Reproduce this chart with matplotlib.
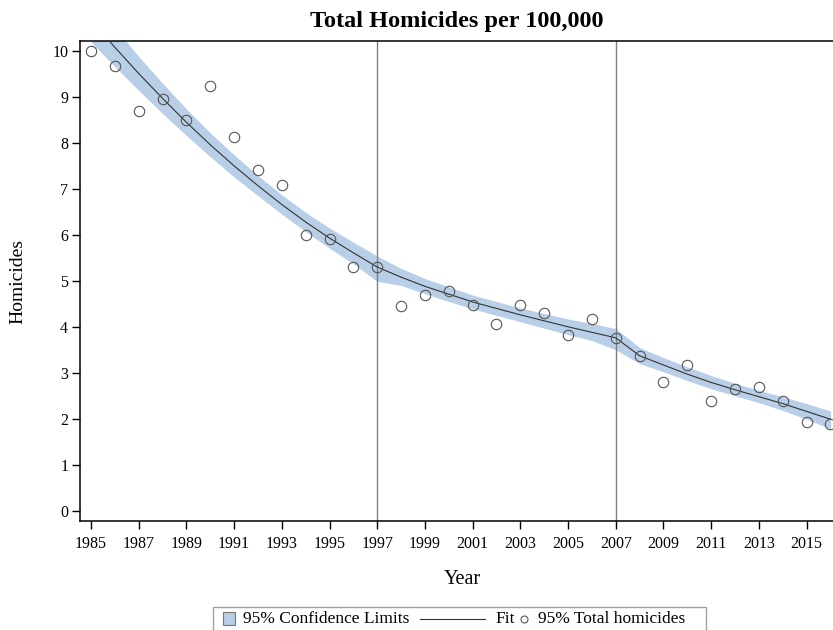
import matplotlib.pyplot as plt
from matplotlib.patches import Rectangle
from matplotlib.lines import Line2D

# données
years = list(range(1985, 2017))
homicides = [10.00, 9.68, 8.69, 8.96, 8.50, 9.23, 8.13, 7.40, 7.09, 6.00, 5.92, 5.30,
             5.30, 4.45, 4.69, 4.78, 4.48, 4.06, 4.48, 4.30, 3.82, 4.17, 3.76,
             3.37, 2.80, 3.18, 2.39, 2.65, 2.70, 2.38, 1.92, 1.89]
fit = [10.68, 10.08, 9.51, 8.97, 8.45, 7.96, 7.50, 7.07, 6.66, 6.28, 5.93, 5.61,
       5.30, 5.08, 4.88, 4.71, 4.54, 4.40, 4.26, 4.13, 4.00, 3.88, 3.76,
       3.37, 3.17, 2.97, 2.79, 2.63, 2.48, 2.33, 2.16, 1.99]
upper = [11.16, 10.50, 9.88, 9.30, 8.74, 8.22, 7.74, 7.29, 6.87, 6.49, 6.15, 5.84,
         5.54, 5.27, 5.05, 4.87, 4.69, 4.55, 4.41, 4.29, 4.17, 4.07, 3.96,
         3.55, 3.33, 3.13, 2.94, 2.77, 2.62, 2.48, 2.33, 2.17]
lower = [10.20, 9.66, 9.14, 8.64, 8.16, 7.70, 7.26, 6.85, 6.45, 6.07, 5.71, 5.37,
         4.99, 4.90, 4.72, 4.55, 4.39, 4.25, 4.11, 3.97, 3.83, 3.70, 3.50,
         3.20, 3.02, 2.83, 2.65, 2.50, 2.35, 2.18, 1.99, 1.78]
knots = [1997, 2007]
xticks = list(range(1985, 2016, 2))
yticks = list(range(0, 11))

band_color = '#b9cfe7'
W, H = 833, 630

plt.rcParams['font.family'] = 'Liberation Serif'

fig = plt.figure(figsize=(W / 100, H / 100), dpi=100)
ax = fig.add_axes([80 / W, 1 - 521 / H, 760 / W, 479.7 / H])

ax.fill_between(years, lower, upper, color=band_color, lw=0, zorder=1)
for k in knots:
    ax.axvline(k, color='#7f7f7f', lw=1, zorder=2)
ax.plot(years, fit, color='#333333', lw=0.8, zorder=3)
ax.plot(years, homicides, 'o', mfc='none', mec='#555555', ms=7.5, mew=0.8,
        clip_on=False, zorder=4)

ax.set_xlim(1984.54, 2016.40)
ax.set_ylim(-0.224, 10.21)
ax.set_xticks(xticks)
ax.set_yticks(yticks)
ax.tick_params(direction='out', length=5.5, width=1, labelsize=11.5, pad=3)
ax.tick_params(axis='x', pad=5)
ax.spines['right'].set_visible(False)
for s in ['left', 'bottom', 'top']:
    ax.spines[s].set_linewidth(1.1)


def px(x, y):
    return (x / W, 1 - y / H)


fig.text(*px(457, 22), 'Total Homicides per 100,000', ha='center', va='center',
         fontsize=17.5, fontweight='bold')
fig.text(*px(462, 580), 'Year', ha='center', va='center', fontsize=14.5)
fig.text(*px(18, 282), 'Homicides', ha='center', va='center', fontsize=14,
         rotation=90)

# légende
fig.patches.append(Rectangle(px(213, 634), (706 - 213) / W, 27 / H,
                             transform=fig.transFigure, fill=False,
                             edgecolor='#a0a0a0', lw=1))
fig.patches.append(Rectangle(px(222.5, 624.5), 12.5 / W, 12.5 / H,
                             transform=fig.transFigure, facecolor=band_color,
                             edgecolor='#777777', lw=0.8))
fig.text(*px(243, 619), '95% Confidence Limits', ha='left', va='center', fontsize=12.5)
fig.lines.append(Line2D([420 / W, 485 / W], [1 - 618.5 / H] * 2,
                        transform=fig.transFigure, color='#333333', lw=0.8))
fig.text(*px(495, 619), 'Fit', ha='left', va='center', fontsize=12.5)
fig.lines.append(Line2D([524 / W], [1 - 618.5 / H], transform=fig.transFigure,
                        marker='o', mfc='none', mec='#555555', ms=5, mew=0.8))
fig.text(*px(538, 619), '95% Total homicides', ha='left', va='center', fontsize=12.5)

fig.savefig('out.png', dpi=100)
